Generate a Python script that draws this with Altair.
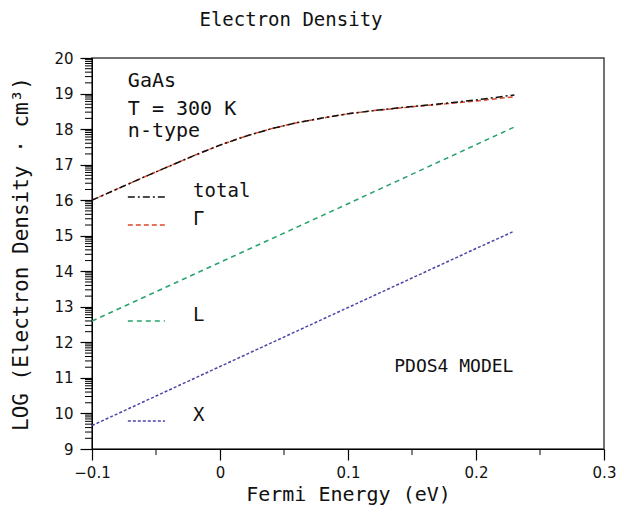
import altair as alt
import pandas as pd
import math

# ---- data ----
x_tg = [-0.10, -0.08, -0.06, -0.04, -0.02, 0.00, 0.02, 0.04, 0.06, 0.08,
        0.10, 0.12, 0.14, 0.16, 0.18, 0.20, 0.23]
total = [16.00, 16.32, 16.64, 16.95, 17.26, 17.55, 17.80, 18.01, 18.18, 18.31,
         18.43, 18.52, 18.60, 18.67, 18.74, 18.82, 18.96]
gamma = [16.00, 16.32, 16.64, 16.95, 17.26, 17.55, 17.80, 18.01, 18.18, 18.31,
         18.43, 18.52, 18.59, 18.66, 18.72, 18.79, 18.91]
x_lx = [-0.10, 0.00, 0.10, 0.20, 0.23]
L_vals = [12.60, 14.25, 15.90, 17.56, 18.06]
X_vals = [9.66, 11.32, 12.98, 14.64, 15.13]

series = ["Γ", "total", "L", "X"]
colors = ["#e0482a", "#111111", "#27a36b", "#4a46a8"]
dashes = [[5, 3], [7, 3, 2, 3], [5, 4], [3, 2]]

# manual legend (data coordinates)
legend_names = ["total", "Γ", "L", "X"]
legend_y = [16.09, 15.30, 12.60, 9.79]
legend_x0 = -0.072
legend_x1 = -0.043
legend_label_x = -0.021

# annotations
notes = ["GaAs", "T = 300 K", "n-type"]
notes_y = [19.19, 18.39, 17.78]
notes_x = -0.072
model_text = "PDOS4 MODEL"
model_x = 0.1827
model_y = 11.18

x_ticks = [-0.1, 0.0, 0.1, 0.2, 0.3]
x_minor = [-0.05, 0.05, 0.15, 0.25]
y_ticks = list(range(9, 21))
y_minor = [d + math.log10(k) for d in range(9, 20) for k in range(2, 10)]

W, H = 512, 391
MONO = "DejaVu Sans Mono"

# ---- tables ----
rows = []
for xv, t, g in zip(x_tg, total, gamma):
    rows.append({"x": xv, "y": g, "s": "Γ"})
    rows.append({"x": xv, "y": t, "s": "total"})
for xv, l, xx in zip(x_lx, L_vals, X_vals):
    rows.append({"x": xv, "y": l, "s": "L"})
    rows.append({"x": xv, "y": xx, "s": "X"})
df = pd.DataFrame(rows)

leg_rows = []
for n, yv in zip(legend_names, legend_y):
    leg_rows.append({"x": legend_x0, "y": yv, "s": n})
    leg_rows.append({"x": legend_x1, "y": yv, "s": n})
leg_df = pd.DataFrame(leg_rows)
leg_txt = pd.DataFrame({"x": [legend_label_x] * 4, "y": legend_y, "s": legend_names})
notes_df = pd.DataFrame({"x": [notes_x] * 3, "y": notes_y, "t": notes})
model_df = pd.DataFrame({"x": [model_x], "y": [model_y], "t": [model_text]})
ymin_df = pd.DataFrame({"y": y_minor})
xmin_df = pd.DataFrame({"x": x_minor})

xs = alt.Scale(domain=[-0.1, 0.3], nice=False, zero=False)
ys = alt.Scale(domain=[9, 20], nice=False, zero=False)

x_axis = alt.Axis(
    values=x_ticks, format=".1~f", title="Fermi Energy (eV)",
    tickSize=11, labelPadding=5, titlePadding=4, titleFont=MONO,
    titleFontSize=20, titleFontWeight="normal", grid=False,
    labelFont="DejaVu Sans", labelFontSize=15, labelFlush=False,
    labelOverlap=False)
y_axis = alt.Axis(
    values=y_ticks, format="d", title="LOG (Electron Density · cm³)",
    tickSize=12, labelPadding=7, titlePadding=22, titleFont=MONO,
    titleFontSize=21, titleFontWeight="normal", grid=False,
    labelFont="DejaVu Sans", labelFontSize=15, labelOverlap=False,
    labelFlush=False)

X = alt.X("x:Q", scale=xs, axis=x_axis)
Y = alt.Y("y:Q", scale=ys, axis=y_axis)

color = alt.Color("s:N", scale=alt.Scale(domain=series, range=colors), legend=None)
dash = alt.StrokeDash("s:N", scale=alt.Scale(domain=series, range=dashes), legend=None)

lines = alt.Chart(df).mark_line(strokeWidth=1.5).encode(
    x=X, y=Y, color=color, strokeDash=dash, detail="s:N", order=alt.Order("x:Q"))

leg_lines = alt.Chart(leg_df).mark_line(strokeWidth=1.5).encode(
    x=X, y=Y, color=color, strokeDash=dash, detail="s:N")

leg_labels = alt.Chart(leg_txt).mark_text(
    font=MONO, fontSize=19, align="left", baseline="alphabetic", color="#111"
).encode(x=X, y=Y, text="s:N")

note_text = alt.Chart(notes_df).mark_text(
    font=MONO, fontSize=20, align="left", baseline="alphabetic", color="#111"
).encode(x=X, y=Y, text="t:N")

model = alt.Chart(model_df).mark_text(
    font=MONO, fontSize=18, align="center", baseline="alphabetic", color="#111"
).encode(x=X, y=Y, text="t:N")

y_minor_ticks = alt.Chart(ymin_df).mark_rule(color="black", strokeWidth=1).encode(
    y=Y, x=alt.value(-7), x2=alt.value(0))

x_minor_ticks = alt.Chart(xmin_df).mark_rule(color="black", strokeWidth=1).encode(
    x=X, y=alt.value(H), y2=alt.value(H + 6))

chart = alt.layer(
    lines, leg_lines, leg_labels, note_text, model, y_minor_ticks, x_minor_ticks
).properties(
    width=W, height=H,
    autosize="none",
    background="white",
    padding={"left": 84, "top": 50, "right": 12, "bottom": 57},
    title=alt.TitleParams("Electron Density", font=MONO, fontSize=19,
                          fontWeight="normal", dx=-57, offset=21, frame="group",
                          color="#111"),
).configure_view(
    stroke="#444", strokeWidth=1.5
).configure_axis(
    grid=False, domainColor="black", tickColor="black", tickWidth=1.2,
    labelColor="#111", titleColor="#111"
)

chart.save("out.html", embed_options={"renderer": "svg", "actions": False})
